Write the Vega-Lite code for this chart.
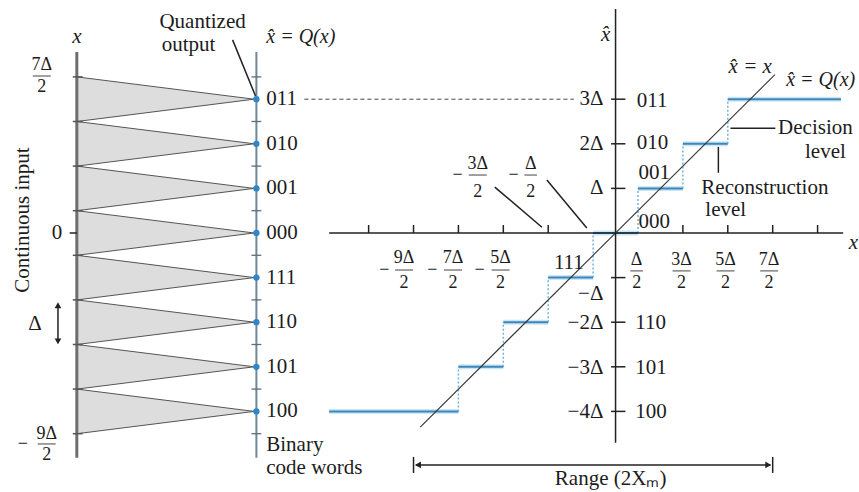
{
  "$schema": "https://vega.github.io/schema/vega-lite/v6.json",
  "width": 859,
  "height": 492,
  "autosize": {"type": "fit", "contains": "padding"},
  "padding": 0,
  "background": "white",
  "config": {"view": {"stroke": null}, "text": {"font": "Liberation Serif", "color": "#1c1c1c"}},
  "datasets": {
    "tri": [
      {"g": 3, "x": -12, "y": 3.5, "y2": 2.5}, {"g": 3, "x": -8.05, "y": 3, "y2": 3},
      {"g": 2, "x": -12, "y": 2.5, "y2": 1.5}, {"g": 2, "x": -8.05, "y": 2, "y2": 2},
      {"g": 1, "x": -12, "y": 1.5, "y2": 0.5}, {"g": 1, "x": -8.05, "y": 1, "y2": 1},
      {"g": 0, "x": -12, "y": 0.5, "y2": -0.5}, {"g": 0, "x": -8.05, "y": 0, "y2": 0},
      {"g": -1, "x": -12, "y": -0.5, "y2": -1.5}, {"g": -1, "x": -8.05, "y": -1, "y2": -1},
      {"g": -2, "x": -12, "y": -1.5, "y2": -2.5}, {"g": -2, "x": -8.05, "y": -2, "y2": -2},
      {"g": -3, "x": -12, "y": -2.5, "y2": -3.5}, {"g": -3, "x": -8.05, "y": -3, "y2": -3},
      {"g": -4, "x": -12, "y": -3.5, "y2": -4.5}, {"g": -4, "x": -8.05, "y": -4, "y2": -4}
    ],
    "segs": [
      {"k": "ink", "x": 0, "y": -4.7, "x2": 0, "y2": 5.02},
      {"k": "ink", "x": -6.38, "y": 0, "x2": 5.07, "y2": 0},
      {"k": "ink", "x": -5.5, "y": 0, "x2": -5.5, "y2": 0.18},
      {"k": "ink", "x": -4.5, "y": 0, "x2": -4.5, "y2": 0.18},
      {"k": "ink", "x": -3.5, "y": 0, "x2": -3.5, "y2": 0.18},
      {"k": "ink", "x": -2.5, "y": 0, "x2": -2.5, "y2": 0.18},
      {"k": "ink", "x": -1.5, "y": 0, "x2": -1.5, "y2": 0.18},
      {"k": "ink", "x": 1.5, "y": 0, "x2": 1.5, "y2": 0.18},
      {"k": "ink", "x": 2.5, "y": 0, "x2": 2.5, "y2": 0.18},
      {"k": "ink", "x": 3.5, "y": 0, "x2": 3.5, "y2": 0.18},
      {"k": "ink", "x": 4.5, "y": 0, "x2": 4.5, "y2": 0.18},
      {"k": "ink", "x": -0.1, "y": 3, "x2": 0.22, "y2": 3},
      {"k": "ink", "x": -0.1, "y": 2, "x2": 0.22, "y2": 2},
      {"k": "ink", "x": -0.1, "y": 1, "x2": 0.22, "y2": 1},
      {"k": "ink", "x": -0.1, "y": -1, "x2": 0.22, "y2": -1},
      {"k": "ink", "x": -0.1, "y": -2, "x2": 0.22, "y2": -2},
      {"k": "ink", "x": -0.1, "y": -3, "x2": 0.22, "y2": -3},
      {"k": "ink", "x": -0.1, "y": -4, "x2": 0.22, "y2": -4},
      {"k": "diag", "x": -4.35, "y": -4.35, "x2": 3.55, "y2": 3.55},
      {"k": "ink", "x": -8.53, "y": 4.33, "x2": -8.02, "y2": 3.07},
      {"k": "ink", "x": -2.69, "y": 1.03, "x2": -1.64, "y2": 0.13},
      {"k": "ink", "x": -1.53, "y": 1.19, "x2": -0.64, "y2": 0.11},
      {"k": "ink", "x": 2.56, "y": 2.35, "x2": 3.56, "y2": 2.35},
      {"k": "ink", "x": 2.29, "y": 1.93, "x2": 2.29, "y2": 1.35},
      {"k": "ink", "x": -4.45, "y": -5.2, "x2": 3.45, "y2": -5.2},
      {"k": "ink", "x": -4.5, "y": -5.02, "x2": -4.5, "y2": -5.38},
      {"k": "ink", "x": 3.5, "y": -5.02, "x2": 3.5, "y2": -5.38},
      {"k": "ink", "x": -12.42, "y": -1.62, "x2": -12.42, "y2": -2.43},
      {"k": "ink", "x": -12.16, "y": 0, "x2": -12, "y2": 0},
      {"k": "bar", "x": -12.98, "y": 3.52, "x2": -12.58, "y2": 3.52},
      {"k": "bar", "x": -12.87, "y": -4.73, "x2": -12.47, "y2": -4.73},
      {"k": "bar", "x": -4.91, "y": -0.83, "x2": -4.51, "y2": -0.83},
      {"k": "bar", "x": -3.82, "y": -0.83, "x2": -3.42, "y2": -0.83},
      {"k": "bar", "x": -2.76, "y": -0.83, "x2": -2.36, "y2": -0.83},
      {"k": "bar", "x": 0.33, "y": -0.85, "x2": 0.61, "y2": -0.85},
      {"k": "bar", "x": 1.27, "y": -0.85, "x2": 1.67, "y2": -0.85},
      {"k": "bar", "x": 2.25, "y": -0.85, "x2": 2.65, "y2": -0.85},
      {"k": "bar", "x": 3.22, "y": -0.85, "x2": 3.62, "y2": -0.85},
      {"k": "bar", "x": -3.27, "y": 1.3, "x2": -2.87, "y2": 1.3},
      {"k": "bar", "x": -2.03, "y": 1.3, "x2": -1.75, "y2": 1.3},
      {"k": "gray", "x": -12, "y": 4.06, "x2": -12, "y2": -5.04},
      {"k": "grayt", "x": -12.09, "y": 3.5, "x2": -11.87, "y2": 3.5},
      {"k": "grayt", "x": -12.09, "y": 2.5, "x2": -11.87, "y2": 2.5},
      {"k": "grayt", "x": -12.09, "y": 1.5, "x2": -11.87, "y2": 1.5},
      {"k": "grayt", "x": -12.09, "y": 0.5, "x2": -11.87, "y2": 0.5},
      {"k": "grayt", "x": -12.09, "y": -0.5, "x2": -11.87, "y2": -0.5},
      {"k": "grayt", "x": -12.09, "y": -1.5, "x2": -11.87, "y2": -1.5},
      {"k": "grayt", "x": -12.09, "y": -2.5, "x2": -11.87, "y2": -2.5},
      {"k": "grayt", "x": -12.09, "y": -3.5, "x2": -11.87, "y2": -3.5},
      {"k": "grayt", "x": -12.09, "y": -4.5, "x2": -11.87, "y2": -4.5},
      {"k": "baxis", "x": -8, "y": 4.06, "x2": -8, "y2": -5.04},
      {"k": "bt", "x": -8.11, "y": 3.5, "x2": -7.89, "y2": 3.5},
      {"k": "bt", "x": -8.11, "y": 2.5, "x2": -7.89, "y2": 2.5},
      {"k": "bt", "x": -8.11, "y": 1.5, "x2": -7.89, "y2": 1.5},
      {"k": "bt", "x": -8.11, "y": 0.5, "x2": -7.89, "y2": 0.5},
      {"k": "bt", "x": -8.11, "y": -0.5, "x2": -7.89, "y2": -0.5},
      {"k": "bt", "x": -8.11, "y": -1.5, "x2": -7.89, "y2": -1.5},
      {"k": "bt", "x": -8.11, "y": -2.5, "x2": -7.89, "y2": -2.5},
      {"k": "bt", "x": -8.11, "y": -3.5, "x2": -7.89, "y2": -3.5},
      {"k": "bt", "x": -8.11, "y": -4.5, "x2": -7.89, "y2": -4.5},
      {"k": "step", "x": -6.38, "y": -4, "x2": -3.5, "y2": -4},
      {"k": "step", "x": -3.5, "y": -3, "x2": -2.5, "y2": -3},
      {"k": "step", "x": -2.5, "y": -2, "x2": -1.5, "y2": -2},
      {"k": "step", "x": -1.5, "y": -1, "x2": -0.5, "y2": -1},
      {"k": "step", "x": -0.5, "y": 0, "x2": 0.5, "y2": 0},
      {"k": "step", "x": 0.5, "y": 1, "x2": 1.5, "y2": 1},
      {"k": "step", "x": 1.5, "y": 2, "x2": 2.5, "y2": 2},
      {"k": "step", "x": 2.5, "y": 3, "x2": 5.02, "y2": 3},
      {"k": "riser", "x": -3.5, "y": -4, "x2": -3.5, "y2": -3},
      {"k": "riser", "x": -2.5, "y": -3, "x2": -2.5, "y2": -2},
      {"k": "riser", "x": -1.5, "y": -2, "x2": -1.5, "y2": -1},
      {"k": "riser", "x": -0.5, "y": -1, "x2": -0.5, "y2": 0},
      {"k": "riser", "x": 0.5, "y": 0, "x2": 0.5, "y2": 1},
      {"k": "riser", "x": 1.5, "y": 1, "x2": 1.5, "y2": 2},
      {"k": "riser", "x": 2.5, "y": 2, "x2": 2.5, "y2": 3},
      {"k": "dash", "x": -6.93, "y": 3, "x2": -0.93, "y2": 3}
    ],
    "dots": [
      {"x": -8, "y": 3}, {"x": -8, "y": 2}, {"x": -8, "y": 1}, {"x": -8, "y": 0},
      {"x": -8, "y": -1}, {"x": -8, "y": -2}, {"x": -8, "y": -3}, {"x": -8, "y": -4}
    ],
    "heads": [
      {"x": -4.4, "y": -5.2, "s": "triangle-left"},
      {"x": 3.4, "y": -5.2, "s": "triangle-right"},
      {"x": -12.42, "y": -1.62, "s": "triangle-up"},
      {"x": -12.42, "y": -2.43, "s": "triangle-down"}
    ],
    "labels": [
      {"k": "l", "x": -10.16, "y": 4.73, "t": "Quantized"},
      {"k": "l", "x": -10.11, "y": 4.22, "t": "output"},
      {"k": "l", "x": -7.78, "y": 3, "t": "011"},
      {"k": "l", "x": -7.78, "y": 2, "t": "010"},
      {"k": "l", "x": -7.78, "y": 1, "t": "001"},
      {"k": "l", "x": -7.78, "y": 0, "t": "000"},
      {"k": "l", "x": -7.78, "y": -1, "t": "111"},
      {"k": "l", "x": -7.78, "y": -2, "t": "110"},
      {"k": "l", "x": -7.78, "y": -3, "t": "101"},
      {"k": "l", "x": -7.78, "y": -4, "t": "100"},
      {"k": "l", "x": -7.78, "y": -4.75, "t": "Binary"},
      {"k": "l", "x": -7.78, "y": -5.27, "t": "code words"},
      {"k": "l", "x": 0.47, "y": 2.96, "t": "011"},
      {"k": "l", "x": 0.47, "y": 2.02, "t": "010"},
      {"k": "l", "x": 0.51, "y": 1.35, "t": "001"},
      {"k": "l", "x": 0.51, "y": 0.25, "t": "000"},
      {"k": "l", "x": 0.44, "y": -2.02, "t": "110"},
      {"k": "l", "x": 0.44, "y": -3.03, "t": "101"},
      {"k": "l", "x": 0.44, "y": -4.01, "t": "100"},
      {"k": "l", "x": 3.62, "y": 2.36, "t": "Decision"},
      {"k": "l", "x": 4.22, "y": 1.82, "t": "level"},
      {"k": "l", "x": 1.91, "y": 1.01, "t": "Reconstruction"},
      {"k": "l", "x": 2.0, "y": 0.52, "t": "level"},
      {"k": "r", "x": -0.27, "y": 3, "t": "3Δ"},
      {"k": "r", "x": -0.27, "y": 2, "t": "2Δ"},
      {"k": "r", "x": -0.27, "y": 1, "t": "Δ"},
      {"k": "r", "x": -0.27, "y": -1.37, "t": "−Δ"},
      {"k": "r", "x": -0.27, "y": -2.02, "t": "−2Δ"},
      {"k": "r", "x": -0.27, "y": -3.03, "t": "−3Δ"},
      {"k": "r", "x": -0.27, "y": -4.01, "t": "−4Δ"},
      {"k": "c", "x": -1.04, "y": -0.67, "t": "111"},
      {"k": "c", "x": -12.44, "y": 0, "t": "0"},
      {"k": "c", "x": -12.93, "y": -2.05, "t": "Δ"},
      {"k": "c", "x": -0.11, "y": -5.52, "t": "Range (2Xₘ)"},
      {"k": "i", "x": -12.0, "y": 4.39, "t": "x"},
      {"k": "i", "x": -0.22, "y": 4.45, "t": "x̂"},
      {"k": "i", "x": 3.0, "y": 3.72, "t": "x̂ = x"},
      {"k": "i", "x": 5.3, "y": -0.22, "t": "x"},
      {"k": "il", "x": -7.78, "y": 4.39, "t": "x̂ = Q(x)"},
      {"k": "il", "x": 3.8, "y": 3.43, "t": "x̂ = Q(x)"},
      {"k": "rot", "x": -13.2, "y": 0.29, "t": "Continuous input"},
      {"k": "f", "x": -12.78, "y": 3.77, "t": "7Δ"},
      {"k": "f", "x": -12.78, "y": 3.27, "t": "2"},
      {"k": "f", "x": -12.67, "y": -4.5, "t": "9Δ"},
      {"k": "f", "x": -12.67, "y": -4.98, "t": "2"},
      {"k": "f", "x": -13.2, "y": -4.73, "t": "−"},
      {"k": "f", "x": -4.71, "y": -0.55, "t": "9Δ"},
      {"k": "f", "x": -4.71, "y": -1.12, "t": "2"},
      {"k": "f", "x": -5.15, "y": -0.83, "t": "−"},
      {"k": "f", "x": -3.62, "y": -0.55, "t": "7Δ"},
      {"k": "f", "x": -3.62, "y": -1.12, "t": "2"},
      {"k": "f", "x": -4.08, "y": -0.83, "t": "−"},
      {"k": "f", "x": -2.56, "y": -0.55, "t": "5Δ"},
      {"k": "f", "x": -2.56, "y": -1.12, "t": "2"},
      {"k": "f", "x": -3.03, "y": -0.83, "t": "−"},
      {"k": "f", "x": 0.47, "y": -0.6, "t": "Δ"},
      {"k": "f", "x": 0.47, "y": -1.12, "t": "2"},
      {"k": "f", "x": 1.47, "y": -0.6, "t": "3Δ"},
      {"k": "f", "x": 1.47, "y": -1.12, "t": "2"},
      {"k": "f", "x": 2.45, "y": -0.6, "t": "5Δ"},
      {"k": "f", "x": 2.45, "y": -1.12, "t": "2"},
      {"k": "f", "x": 3.42, "y": -0.6, "t": "7Δ"},
      {"k": "f", "x": 3.42, "y": -1.12, "t": "2"},
      {"k": "f", "x": -3.07, "y": 1.54, "t": "3Δ"},
      {"k": "f", "x": -3.07, "y": 0.93, "t": "2"},
      {"k": "f", "x": -3.52, "y": 1.3, "t": "−"},
      {"k": "f", "x": -1.89, "y": 1.54, "t": "Δ"},
      {"k": "f", "x": -1.89, "y": 0.93, "t": "2"},
      {"k": "f", "x": -2.27, "y": 1.3, "t": "−"}
    ]
  },
  "encoding": {
    "x": {"field": "x", "type": "quantitative", "scale": {"domain": [-13.711, 5.378], "nice": false, "zero": false}, "axis": null},
    "y": {"field": "y", "type": "quantitative", "scale": {"domain": [-5.807, 5.224], "nice": false, "zero": false}, "axis": null}
  },
  "layer": [
    {
      "data": {"name": "tri"},
      "mark": {"type": "area", "fill": "#dddddd", "stroke": "#555555", "strokeWidth": 1, "orient": "vertical"},
      "encoding": {"y2": {"field": "y2"}, "detail": {"field": "g"}}
    },
    {
      "data": {"name": "segs"},
      "transform": [{"filter": "datum.k === 'gray'"}],
      "mark": {"type": "rule", "color": "#6e6e6e", "strokeWidth": 3},
      "encoding": {"x2": {"field": "x2"}, "y2": {"field": "y2"}}
    },
    {
      "data": {"name": "segs"},
      "transform": [{"filter": "datum.k === 'grayt'"}],
      "mark": {"type": "rule", "color": "#555555", "strokeWidth": 1.5},
      "encoding": {"x2": {"field": "x2"}, "y2": {"field": "y2"}}
    },
    {
      "data": {"name": "segs"},
      "transform": [{"filter": "datum.k === 'baxis'"}],
      "mark": {"type": "rule", "color": "#6d8799", "strokeWidth": 2},
      "encoding": {"x2": {"field": "x2"}, "y2": {"field": "y2"}}
    },
    {
      "data": {"name": "segs"},
      "transform": [{"filter": "datum.k === 'bt'"}],
      "mark": {"type": "rule", "color": "#5c6f7c", "strokeWidth": 1.3},
      "encoding": {"x2": {"field": "x2"}, "y2": {"field": "y2"}}
    },
    {
      "data": {"name": "segs"},
      "transform": [{"filter": "datum.k === 'dash'"}],
      "mark": {"type": "rule", "color": "#444444", "strokeWidth": 1, "strokeDash": [4, 3]},
      "encoding": {"x2": {"field": "x2"}, "y2": {"field": "y2"}}
    },
    {
      "data": {"name": "segs"},
      "transform": [{"filter": "datum.k === 'riser'"}],
      "mark": {"type": "rule", "color": "#6fb3df", "strokeWidth": 1.5, "strokeDash": [2, 2]},
      "encoding": {"x2": {"field": "x2"}, "y2": {"field": "y2"}}
    },
    {
      "data": {"name": "segs"},
      "transform": [{"filter": "datum.k === 'step'"}],
      "mark": {"type": "rule", "color": "#a9d6f2", "strokeWidth": 5, "opacity": 0.6},
      "encoding": {"x2": {"field": "x2"}, "y2": {"field": "y2"}}
    },
    {
      "data": {"name": "segs"},
      "transform": [{"filter": "datum.k === 'step'"}],
      "mark": {"type": "rule", "color": "#3f86b8", "strokeWidth": 2},
      "encoding": {"x2": {"field": "x2"}, "y2": {"field": "y2"}}
    },
    {
      "data": {"name": "segs"},
      "transform": [{"filter": "datum.k === 'diag'"}],
      "mark": {"type": "rule", "color": "#333333", "strokeWidth": 1.1},
      "encoding": {"x2": {"field": "x2"}, "y2": {"field": "y2"}}
    },
    {
      "data": {"name": "segs"},
      "transform": [{"filter": "datum.k === 'ink'"}],
      "mark": {"type": "rule", "color": "#222222", "strokeWidth": 1.5},
      "encoding": {"x2": {"field": "x2"}, "y2": {"field": "y2"}}
    },
    {
      "data": {"name": "segs"},
      "transform": [{"filter": "datum.k === 'bar'"}],
      "mark": {"type": "rule", "color": "#444444", "strokeWidth": 1},
      "encoding": {"x2": {"field": "x2"}, "y2": {"field": "y2"}}
    },
    {
      "data": {"name": "dots"},
      "mark": {"type": "point", "filled": true, "color": "#2f86c8", "size": 40, "opacity": 1},
      "encoding": {}
    },
    {
      "data": {"name": "heads"},
      "mark": {"type": "point", "filled": true, "color": "#222222", "size": 45, "opacity": 1},
      "encoding": {"shape": {"field": "s", "type": "nominal", "scale": null}}
    },
    {
      "data": {"name": "labels"},
      "transform": [{"filter": "datum.k === 'l'"}],
      "mark": {"type": "text", "align": "left", "baseline": "middle", "fontSize": 21},
      "encoding": {"text": {"field": "t"}}
    },
    {
      "data": {"name": "labels"},
      "transform": [{"filter": "datum.k === 'r'"}],
      "mark": {"type": "text", "align": "right", "baseline": "middle", "fontSize": 21},
      "encoding": {"text": {"field": "t"}}
    },
    {
      "data": {"name": "labels"},
      "transform": [{"filter": "datum.k === 'c'"}],
      "mark": {"type": "text", "align": "center", "baseline": "middle", "fontSize": 21},
      "encoding": {"text": {"field": "t"}}
    },
    {
      "data": {"name": "labels"},
      "transform": [{"filter": "datum.k === 'i'"}],
      "mark": {"type": "text", "align": "center", "baseline": "middle", "fontSize": 21, "fontStyle": "italic"},
      "encoding": {"text": {"field": "t"}}
    },
    {
      "data": {"name": "labels"},
      "transform": [{"filter": "datum.k === 'il'"}],
      "mark": {"type": "text", "align": "left", "baseline": "middle", "fontSize": 20, "fontStyle": "italic"},
      "encoding": {"text": {"field": "t"}}
    },
    {
      "data": {"name": "labels"},
      "transform": [{"filter": "datum.k === 'rot'"}],
      "mark": {"type": "text", "align": "center", "baseline": "middle", "fontSize": 21, "angle": 270},
      "encoding": {"text": {"field": "t"}}
    },
    {
      "data": {"name": "labels"},
      "transform": [{"filter": "datum.k === 'f'"}],
      "mark": {"type": "text", "align": "center", "baseline": "middle", "fontSize": 18},
      "encoding": {"text": {"field": "t"}}
    }
  ]
}
